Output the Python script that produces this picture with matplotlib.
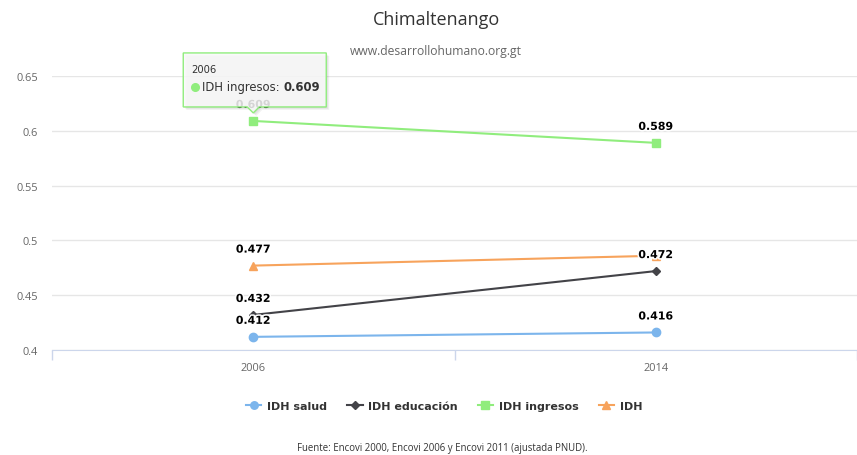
import matplotlib
matplotlib.use("Agg")
import matplotlib.pyplot as plt
import matplotlib.patheffects as pe
import matplotlib.transforms as mtransforms
from matplotlib.patches import Polygon
from matplotlib.lines import Line2D

# data
years = ["2006", "2014"]
idh_salud = [0.412, 0.416]
idh_educacion = [0.432, 0.472]
idh_ingresos = [0.609, 0.589]
idh = [0.477, 0.486]
yticks = [0.4, 0.45, 0.5, 0.55, 0.6, 0.65]

series = [
    ("IDH salud", idh_salud, "#7cb5ec", "o", 6, [True, True]),
    ("IDH educación", idh_educacion, "#434348", "D", 4.5, [True, True]),
    ("IDH ingresos", idh_ingresos, "#90ed7d", "s", 6, [True, True]),
    ("IDH", idh, "#f7a35c", "^", 6, [True, False]),
]

W, H = 857, 456
fig = plt.figure(figsize=(W / 100, H / 100), dpi=100)
ax = fig.add_axes([52 / W, (H - 351) / H, 805 / W, (351 - 77) / H])

x = list(range(len(years)))
for name, vals, col, mk, ms, show in series:
    ax.plot(x, vals, color=col, lw=1.5, marker=mk, ms=ms, label=name, zorder=3,
            clip_on=False)
    for xi, v, s in zip(x, vals, show):
        if s:
            ax.annotate(f"{v:.3f}", (xi, v), textcoords="offset pixels",
                        xytext=(0, 16), ha="center", va="center",
                        fontsize=7.9, fontweight="bold", color="#000000",
                        family="DejaVu Sans", zorder=5,
                        path_effects=[pe.withStroke(linewidth=2.2, foreground="white")])

ax.set_xlim(-0.5, 1.5)
ax.set_ylim(0.4, 0.65)
ax.set_yticks(yticks)
ax.set_yticklabels([f"{t:g}" for t in yticks])
ax.set_xticks(x)
ax.set_xticklabels(years)
ax.set_xticks([-0.5, 0.5, 1.5], minor=True)
ax.tick_params(axis="y", length=0, pad=10, labelsize=7.9, labelcolor="#666666")
ax.tick_params(axis="x", which="major", length=0, pad=9, labelsize=7.9,
               labelcolor="#666666")
ax.tick_params(axis="x", which="minor", length=7, color="#ccd6eb", width=1)
for lab in ax.get_xticklabels() + ax.get_yticklabels():
    lab.set_family("Open Sans")
ax.grid(axis="y", color="#e6e6e6", lw=1)
ax.set_axisbelow(True)
for s in ["top", "right", "left"]:
    ax.spines[s].set_visible(False)
ax.spines["bottom"].set_color("#ccd6eb")

fig.text(436 / W, 1 - 20 / H, "Chimaltenango", ha="center", va="center",
         fontsize=13, color="#333333", family="Open Sans")
fig.text(436 / W, 1 - 52 / H, "www.desarrollohumano.org.gt", ha="center",
         va="center", fontsize=8.7, color="#666666", family="Open Sans")
fig.text(442 / W, 1 - 449 / H,
         "Fuente: Encovi 2000, Encovi 2006 y Encovi 2011 (ajustada PNUD).",
         ha="center", va="center", fontsize=6.9, color="#333333",
         family="Open Sans")

handles = [Line2D([], [], color=c, lw=1.5, marker=m, ms=ms * 0.9)
           for _, _, c, m, ms, _ in series]
leg = fig.legend(handles, [s[0] for s in series], loc="center",
                 bbox_to_anchor=(444 / W, 1 - 407 / H), ncol=4, frameon=False,
                 handlelength=1.4, handletextpad=0.5, columnspacing=1.8,
                 prop={"family": "DejaVu Sans", "weight": "bold", "size": 8.0})
for t in leg.get_texts():
    t.set_color("#333333")

# tooltip anchored at the hovered point
px, py = ax.transData.transform((0, idh_ingresos[0]))
off = mtransforms.Affine2D().translate(px, py)
box = [(-70, 68), (73, 68), (73, 14), (6, 14), (0, 8), (-6, 14), (-70, 14)]
for k in range(3, 0, -1):
    shadow = Polygon([(bx + k, by - k) for bx, by in box], closed=True,
                     facecolor="black", alpha=0.05, edgecolor="none",
                     transform=off, zorder=8)
    fig.add_artist(shadow)
tip = Polygon(box, closed=True, facecolor=(0.985, 0.985, 0.985, 0.85),
              edgecolor="#90ed7d", lw=1, transform=off, zorder=9)
fig.add_artist(tip)
fig.text(px - 62, py + 52, "2006", transform=mtransforms.IdentityTransform(),
         fontsize=7.2, color="#333333", va="center", ha="left",
         family="DejaVu Sans", zorder=10)
fig.add_artist(Line2D([px - 58], [py + 34], marker="o", ms=5.5, color="#90ed7d",
                      transform=mtransforms.IdentityTransform(), zorder=10))
t1 = fig.text(px - 51, py + 34, "IDH ingresos: ",
              transform=mtransforms.IdentityTransform(), fontsize=8.4,
              color="#333333", va="center", ha="left", family="DejaVu Sans",
              zorder=10)
fig.add_artist(plt.Annotation(f"{idh_ingresos[0]:.3f}", xy=(1, 0.5),
                              xycoords=t1, va="center", ha="left",
                              fontsize=8.4, fontweight="bold", color="#333333",
                              family="DejaVu Sans", zorder=10))

fig.savefig("out.png", dpi=100, facecolor="white")
